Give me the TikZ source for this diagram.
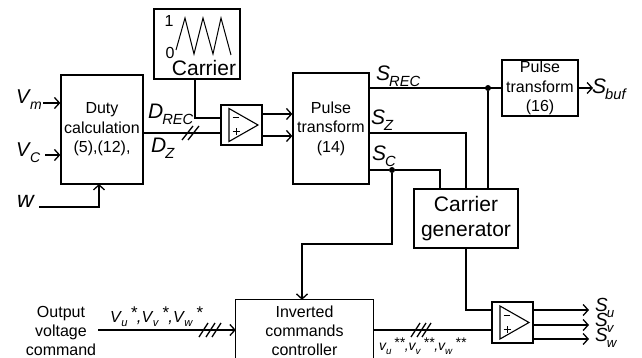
\documentclass[tikz,border=0pt]{standalone}
\usepackage{fontspec}
\setmainfont{Liberation Sans}
\usetikzlibrary{arrows.meta}
\newcommand{\sym}[3]{\fontsize{#3}{#3}\selectfont\textit{#1}\kern-.05em\raisebox{-.3em}{\fontsize{0.7\dimexpr#3pt\relax}{10}\selectfont\textit{#2}}}
\newcommand{\stars}[2]{\fontsize{#1}{#1}\selectfont\textit{\,\raisebox{.2em}{#2},}}
\tikzset{
    block/.style={draw, line width=1.3pt, inner sep=0pt, align=center, font=\fontsize{16}{19.5}\selectfont},
    label/.style={inner sep=0pt, anchor=west},
    wire/.style={line width=1.3pt},
    arw/.style={wire, -{Straight Barb[length=5pt,width=11pt]}},
    junc/.style={circle, fill, inner sep=0pt, minimum size=6pt}
}
\begin{document}
\begin{tikzpicture}[x=1pt,y=-1pt]
    \useasboundingbox (0,0) rectangle (642,358);

    \node[block, minimum width=82pt, minimum height=109pt] (duty) at (102,129.5) {Duty\\calculation\\(5),(12),};
    \node[block, minimum width=86pt, minimum height=70pt] (carrier) at (197,44) {};
    \node[block, minimum width=76pt, minimum height=111pt] (pulsea) at (331,128.5) {Pulse\\transform\\(14)};
    \node[block, minimum width=76pt, minimum height=56pt] (pulseb) at (540,88) {Pulse\\transform\\(16)};
    \node[block, minimum width=104pt, minimum height=59pt, font=\fontsize{21}{25}\selectfont] (cargen) at (466,218.5) {Carrier\\generator};
    \node[block, minimum width=41pt, minimum height=40pt] (cmpa) at (241.5,125) {};
    \node[block, minimum width=41pt, minimum height=41pt] (cmpb) at (512.5,322.5) {};
    \node[inner sep=0pt, minimum width=137pt, minimum height=58pt] (invbox) at (304.5,329) {};
    \node[inner sep=0pt, align=center, font=\fontsize{16}{19}\selectfont] (inv) at (304.5,331) {Inverted\\commands\\controller};
    \draw[wire] (invbox.south west) -- (invbox.north west) -- (invbox.north east) -- (invbox.south east);

    % carrier symbol
    \draw[line width=1pt] (176,50) -- (185,18) -- (194,54) -- (203,18) -- (213,54) -- (221,18) -- (231,55);
    \node[inner sep=0pt, font=\fontsize{16}{16}\selectfont] (one) at (169,21) {1};
    \node[inner sep=0pt, font=\fontsize{16}{16}\selectfont] (zero) at (170,53) {0};
    \node[inner sep=0pt, font=\fontsize{21}{21}\selectfont] (carlabel) at (204,68) {Carrier};

    % comparators
    \foreach \cx/\cy in {241.5/125, 512.5/322.5} {
        \draw[line width=1.1pt] (\cx-12.5,\cy-16.5) -- (\cx+16.5,\cy) -- (\cx-12.5,\cy+16.5) -- cycle;
        \draw[line width=1pt] (\cx-9,\cy-7) -- (\cx-3,\cy-7);
        \draw[line width=1pt] (\cx-9,\cy+7) -- (\cx-2,\cy+7) (\cx-5.5,\cy+3.5) -- (\cx-5.5,\cy+10.5);
    }

    % signal names
    \node[label] (vm) at (16,100) {\sym{V}{m}{20}};
    \node[label] (vc) at (16,153) {\sym{V}{C}{20}};
    \node[label] (w) at (17,205) {\sym{w}{}{23}};
    \node[label] (drec) at (148,114) {\sym{D}{REC}{21}};
    \node[label] (dz) at (151,148) {\sym{D}{Z}{21}};
    \node[label] (srec) at (376,76) {\sym{S}{REC}{21}};
    \node[label] (sz) at (371,120) {\sym{S}{Z}{21}};
    \node[label] (sc) at (372,156) {\sym{S}{C}{21}};
    \node[label] (sbuf) at (592,89) {\sym{S}{buf}{21}};
    \node[label] (su) at (595,308) {\sym{S}{u}{19}};
    \node[label] (sv) at (595,323) {\sym{S}{v}{19}};
    \node[label] (sw) at (595,338) {\sym{S}{w}{19}};
    \node[inner sep=0pt, align=center, font=\fontsize{16}{19}\selectfont] (cmd) at (61,331) {Output\\voltage\\command};
    \node[label] (vref) at (110,317) {\sym{V}{u}{16}\stars{17}{*}\sym{V}{v}{16}\stars{17}{*}\sym{V}{w}{16}\fontsize{17}{17}\selectfont\textit{\,\raisebox{.2em}{*}}};
    \node[label] (vcomp) at (379,346) {\sym{v}{u}{14}\stars{14}{**}\sym{v}{v}{14}\stars{14}{**}\sym{v}{w}{14}\fontsize{14}{14}\selectfont\textit{\,\raisebox{.2em}{**}}};

    \coordinate (tri) at (488,88);
    \coordinate (scj) at (392,170);
    \coordinate (cmdend) at (98,330);
    \node[junc] (jrec) at (tri) {};
    \node[junc] (jc) at (scj) {};

    \draw[arw] (vm.east) ++(1,3) -- (duty.west |- 0,103);
    \draw[arw] (45,155) -- (duty.west |- 0,155);
    \draw[arw] (39,207) -- (99,207) -- (99,184);
    \draw[wire] (carrier.south -| 195,0) -- (195,118) -- (cmpa.west |- 0,118);
    \draw[wire] (duty.east |- 0,133) -- (cmpa.west |- 0,133);
    \draw[arw] (cmpa.east |- 0,114) -- (pulsea.west |- 0,114);
    \draw[arw] (cmpa.east |- 0,136) -- (pulsea.west |- 0,136);
    \draw[wire] (pulsea.east |- pulseb.west) -- (pulseb.west);
    \draw[wire] (jrec) -- (jrec |- cargen.north);
    \draw[wire] (pulsea.east |- 0,133) -| (cargen.north);
    \draw[wire] (pulsea.east |- jc) -- (jc) -- (440,170) -- (440,189);
    \draw[arw] (jc) -- (392,244) -- (302,244) -- (invbox.north -| 302,0);
    \draw[arw] (pulseb.east) -- (593,88);
    \draw[arw] (cmdend) -- (invbox.west |- cmdend);
    \draw[wire] (invbox.east |- cmdend) -- (cmpb.west |- cmdend);
    \draw[wire] (cargen.south) |- (cmpb.west |- 0,310);
    \foreach \oy in {310,325,339} {
        \draw[arw] (cmpb.east |- 0,\oy) -- (589,\oy);
    }

    % bus ticks
    \foreach \tx in {182,188} {
        \draw[wire] (\tx,140) -- (\tx+11,126);
    }
    \foreach \tx in {199,206,212,411,417,422} {
        \draw[wire] (\tx,337) -- (\tx+9,323);
    }
\end{tikzpicture}
\end{document}
